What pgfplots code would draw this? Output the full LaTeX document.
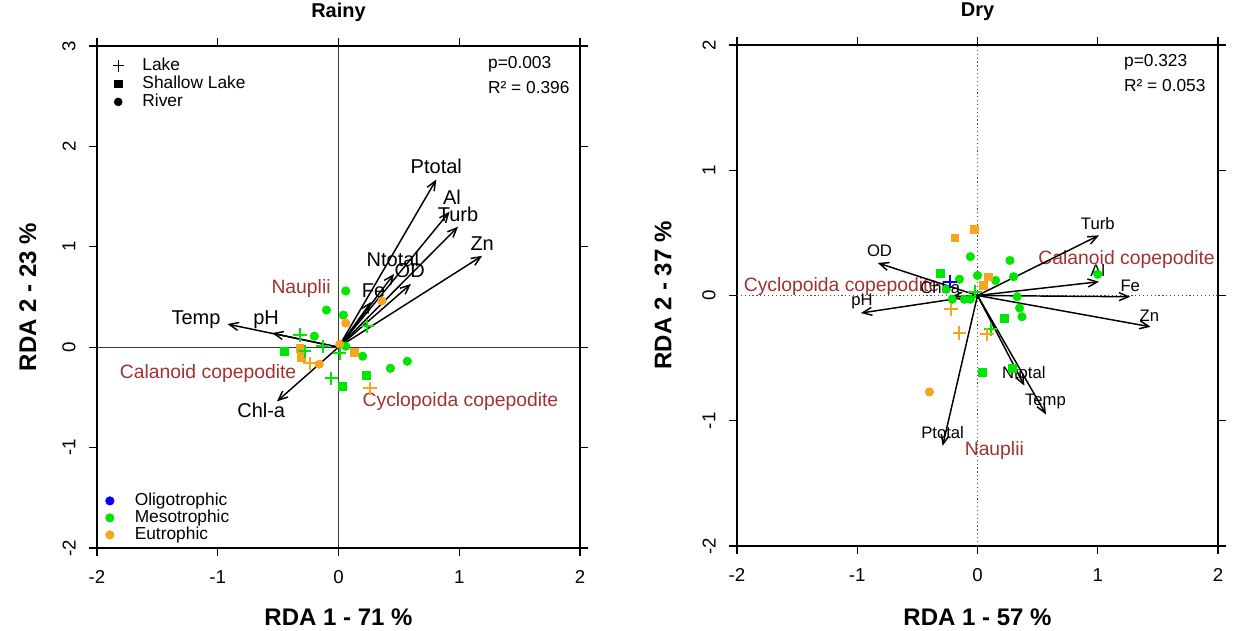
\documentclass[border=0pt]{standalone}
\usepackage{pgfplots}
\pgfplotsset{compat=1.18}
\usepackage{fontspec}
\setmainfont{Liberation Sans}
\usetikzlibrary{arrows.meta}

\definecolor{grn}{RGB}{0,230,0}
\definecolor{org}{RGB}{245,165,30}
\definecolor{blu}{RGB}{0,0,255}
\definecolor{spc}{RGB}{160,50,50}

\pgfplotsset{
  rda/.style={
    scale only axis, anchor=south west,
    axis line style={line width=1pt},
    tick align=outside, major tick length=6pt,
    tick style={line width=1pt, black},
    xmin=-2, xmax=2, xtick={-2,...,2}, xticklabels={-2,-1,0,1,2},
    ticklabel style={font=\fontsize{14}{16}\selectfont},
    xticklabel style={anchor=center, yshift=-16pt},
    yticklabel style={anchor=center, xshift=-15pt, rotate=90},
    title style={font=\fontsize{15}{17}\bfseries, anchor=center},
    label style={font=\fontsize{18}{20}\bfseries, anchor=center},
  },
  vec/.style={black, line width=1.1pt, -{Straight Barb[length=7pt,width=6pt]}},
  pts/.style={only marks, mark options={solid}},
}

\begin{document}
\begin{tikzpicture}
\path[use as bounding box] (0,0) rectangle (926.25pt,473.25pt);

% ---------- Rainy ----------
\begin{axis}[rda, at={(72.75pt,62.25pt)}, width=362.25pt, height=376.5pt,
  ymin=-2, ymax=3, ytick={-2,...,3}, yticklabels={-2,-1,0,1,2,3},
  title={Rainy}, title style={at={(axis description cs:0.5,1.052)}},
  xlabel={RDA 1 - 71 \%}, xlabel style={at={(axis description cs:0.5,-0.1375)}},
  ylabel={RDA 2 - 23 \%}, ylabel style={at={(axis description cs:-0.1429,0.5)}},
  legend style={at={(axis description cs:0,1)}, anchor=north west, draw=none, fill=none,
    xshift=8.5pt, yshift=-6pt, column sep=12pt, row sep=0pt,
    font=\fontsize{13}{15}\selectfont,
    nodes={inner ysep=0.75pt, text height=9.5pt, text depth=2.5pt}},
  legend cell align=left]
\addlegendimage{only marks, mark=+, black, mark size=4.2pt, line width=0.7pt}
\addlegendentry{Lake}
\addlegendimage{only marks, mark=square*, black, mark size=2.8pt}
\addlegendentry{Shallow Lake}
\addlegendimage{only marks, mark=*, black, mark size=3pt}
\addlegendentry{River}

\addplot[gray!45!black, line width=1pt, forget plot] coordinates {(-2,0) (2,0)};
\addplot[gray!45!black, line width=1pt, forget plot] coordinates {(0,-2) (0,3)};

\addplot[pts, forget plot, mark=*, grn, mark size=3.2pt] coordinates {
 (0.06,0.56) (-0.10,0.37) (0.04,0.32) (-0.20,0.11) (0.06,0.01)
 (0.20,-0.09) (0.43,-0.21) (0.57,-0.14)};
\addplot[pts, forget plot, mark=*, org, mark size=3.2pt] coordinates {
 (0.06,0.24) (-0.16,-0.17) (0.01,0.03) (0.36,0.46)};
\addplot[pts, forget plot, mark=square*, grn, mark size=2.9pt] coordinates {
 (-0.45,-0.04) (0.23,-0.28) (0.03,-0.39)};
\addplot[pts, forget plot, mark=square*, org, mark size=2.9pt] coordinates {
 (-0.32,-0.01) (-0.31,-0.10) (0.13,-0.05)};
\addplot[pts, forget plot, mark=+, grn, mark size=5pt, line width=1.5pt] coordinates {
 (-0.32,0.12) (-0.28,-0.04) (-0.13,0.01) (-0.06,-0.31) (0.01,-0.06) (0.24,0.21)};
\addplot[pts, forget plot, mark=+, org, mark size=5pt, line width=1.5pt] coordinates {
 (-0.24,-0.16) (0.26,-0.41)};

\addplot[vec, forget plot] coordinates {(0,0) (0.81,1.67)};
\addplot[vec, forget plot] coordinates {(0,0) (0.92,1.35)};
\addplot[vec, forget plot] coordinates {(0,0) (0.99,1.20)};
\addplot[vec, forget plot] coordinates {(0,0) (1.19,0.91)};
\addplot[vec, forget plot] coordinates {(0,0) (0.46,0.73)};
\addplot[vec, forget plot] coordinates {(0,0) (0.60,0.63)};
\addplot[vec, forget plot] coordinates {(0,0) (0.27,0.45)};
\addplot[vec, forget plot] coordinates {(0,0) (-0.92,0.23)};
\addplot[vec, forget plot] coordinates {(0,0) (-0.55,0.14)};
\addplot[vec, forget plot] coordinates {(0,0) (-0.51,-0.54)};

\begin{scope}[font=\fontsize{15}{17}\selectfont]
\node at (axis cs:0.81,1.80) {Ptotal};
\node at (axis cs:0.94,1.49) {Al};
\node at (axis cs:0.99,1.32) {Turb};
\node at (axis cs:1.19,1.03) {Zn};
\node at (axis cs:0.45,0.87) {Ntotal};
\node at (axis cs:0.59,0.76) {OD};
\node at (axis cs:0.29,0.56) {Fe};
\node at (axis cs:-1.18,0.27) {Temp};
\node at (axis cs:-0.60,0.27) {pH};
\node at (axis cs:-0.64,-0.63) {Chl-a};
\end{scope}
\begin{scope}[font=\fontsize{14.5}{16}\selectfont, text=spc]
\node at (axis cs:-0.31,0.58) {Nauplii};
\node at (axis cs:-1.08,-0.26) {Calanoid copepodite};
\node at (axis cs:1.01,-0.54) {Cyclopoida copepodite};
\end{scope}
\begin{scope}[font=\fontsize{13}{15}\selectfont]
\node[anchor=west] at (axis cs:1.20,2.82) {p=0.003};
\node[anchor=west] at (axis cs:1.20,2.59) {R² = 0.396};
\end{scope}
\end{axis}

% trophic legend of the Rainy panel
\begin{axis}[scale only axis, anchor=south west, at={(72.75pt,62.25pt)},
  width=362.25pt, height=376.5pt, hide axis, xmin=0, xmax=1, ymin=0, ymax=1,
  legend style={at={(axis description cs:0,0)}, anchor=south west, draw=none, fill=none,
    xshift=3.25pt, yshift=1.25pt, column sep=13.5pt, row sep=0pt,
    font=\fontsize{13}{15}\selectfont,
    nodes={inner ysep=0.5pt, text height=9.25pt, text depth=2.5pt}},
  legend cell align=left]
\addlegendimage{only marks, mark=*, blu, mark size=3.2pt}
\addlegendentry{Oligotrophic}
\addlegendimage{only marks, mark=*, grn, mark size=3.2pt}
\addlegendentry{Mesotrophic}
\addlegendimage{only marks, mark=*, org, mark size=3.2pt}
\addlegendentry{Eutrophic}
\end{axis}

% ---------- Dry ----------
\begin{axis}[rda, at={(552.75pt,63.75pt)}, width=360.75pt, height=375.75pt,
  ymin=-2, ymax=2, ytick={-2,...,2}, yticklabels={-2,-1,0,1,2},
  title={Dry}, title style={at={(axis description cs:0.5,1.05)}},
  xlabel={RDA 1 - 57 \%}, xlabel style={at={(axis description cs:0.5,-0.1417)}},
  ylabel={RDA 2 - 37 \%}, ylabel style={at={(axis description cs:-0.1538,0.5)}}]

\addplot[gray!60!black, dotted, line width=0.9pt] coordinates {(-2,0) (2,0)};
\addplot[gray!60!black, dotted, line width=0.9pt] coordinates {(0,-2) (0,2)};

\begin{scope}[font=\fontsize{14.5}{16}\selectfont, text=spc]
\node at (axis cs:1.24,0.29) {Calanoid copepodite};
\node at (axis cs:-1.13,0.07) {Cyclopoida copepodite};
\node at (axis cs:0.14,-1.235) {Nauplii};
\end{scope}

\addplot[pts, mark=*, grn, mark size=3.2pt] coordinates {
 (-0.06,0.31) (0.27,0.28) (-0.15,0.13) (0.0,0.16) (0.15,0.12) (0.30,0.15)
 (-0.11,-0.03) (-0.21,-0.03) (-0.06,-0.03) (-0.26,0.05) (0.33,-0.01)
 (0.35,-0.10) (0.37,-0.17) (1.00,0.17)};
\addplot[pts, mark=*, org, mark size=3.2pt] coordinates {(-0.40,-0.77)};
\addplot[pts, mark=square*, grn, mark size=2.9pt] coordinates {
 (-0.31,0.18) (0.22,-0.18) (0.04,-0.61) (0.29,-0.58)};
\addplot[pts, mark=square*, org, mark size=2.9pt] coordinates {
 (-0.19,0.46) (-0.03,0.53) (0.09,0.15) (0.05,0.08)};
\addplot[pts, mark=+, grn, mark size=5pt, line width=1.5pt] coordinates {
 (-0.02,0.03) (0.11,-0.27)};
\addplot[pts, mark=+, org, mark size=5pt, line width=1.5pt] coordinates {
 (-0.22,-0.11) (-0.15,-0.30) (0.08,-0.31)};
\addplot[pts, mark=+, blu, mark size=5pt, line width=1.5pt] coordinates {(-0.23,0.11)};

\addplot[vec] coordinates {(0,0) (1.01,0.48)};
\addplot[vec] coordinates {(0,0) (1.01,0.11)};
\addplot[vec] coordinates {(0,0) (1.27,-0.01)};
\addplot[vec] coordinates {(0,0) (1.44,-0.25)};
\addplot[vec] coordinates {(0,0) (-0.83,0.26)};
\addplot[vec] coordinates {(0,0) (-0.97,-0.14)};
\addplot[vec] coordinates {(0,0) (-0.22,-0.01)};
\addplot[vec] coordinates {(0,0) (0.39,-0.72)};
\addplot[vec] coordinates {(0,0) (0.57,-0.95)};
\addplot[vec] coordinates {(0,0) (-0.29,-1.20)};

\begin{scope}[font=\fontsize{12.5}{14}\selectfont]
\node at (axis cs:1.00,0.575) {Turb};
\node at (axis cs:1.00,0.20) {Al};
\node at (axis cs:1.27,0.075) {Fe};
\node at (axis cs:1.43,-0.165) {Zn};
\node at (axis cs:-0.815,0.355) {OD};
\node at (axis cs:-0.96,-0.045) {pH};
\node at (axis cs:-0.31,0.065) {Chl-a};
\node at (axis cs:0.385,-0.617) {Ntotal};
\node at (axis cs:0.565,-0.85) {Temp};
\node at (axis cs:-0.29,-1.096) {Ptotal};
\end{scope}
\begin{scope}[font=\fontsize{13}{15}\selectfont]
\node[anchor=west] at (axis cs:1.18,1.86) {p=0.323};
\node[anchor=west] at (axis cs:1.18,1.676) {R² = 0.053};
\end{scope}
\end{axis}
\end{tikzpicture}
\end{document}
